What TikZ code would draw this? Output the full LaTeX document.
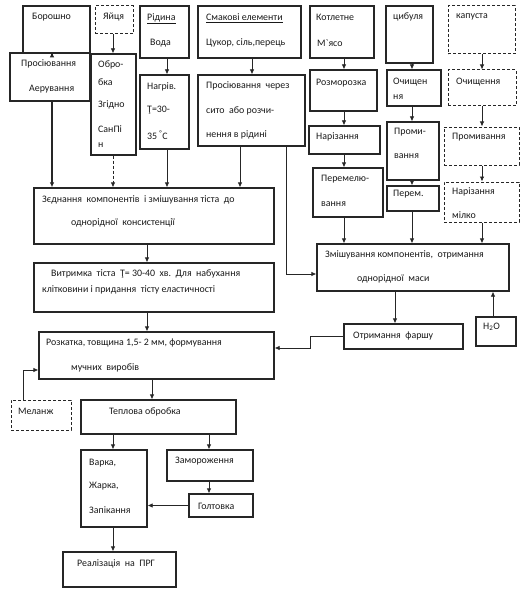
\documentclass[tikz,border=0pt]{standalone}
\usepackage{fontspec}
\setmainfont{Carlito}
\usetikzlibrary{arrows.meta,calc}
\tikzset{
  bx/.style={draw=black!85, line width=1.3pt, rectangle, inner sep=0pt},
  dbx/.style={bx, line width=1pt, dash pattern=on 3pt off 2pt},
  txt/.style={inner sep=0pt, anchor=west, font=\fontsize{9.9}{11}\selectfont, text=black!90},
  conn/.style={draw=black!85, line width=0.8pt, -{Latex[length=5pt,width=4.5pt]}},
  thk/.style={conn, line width=1.8pt},
  dconn/.style={conn, dash pattern=on 3pt off 2pt},
}
\begin{document}
\begin{tikzpicture}[x=1pt,y=-1pt]
\useasboundingbox[fill=white] (0,0) rectangle (523,591);
% boxes
\node[bx, minimum width=67pt, minimum height=47pt] (bor) at (56.5,29.5) {};
\node[dbx, minimum width=38pt, minimum height=28pt] (yai) at (114,20) {};
\node[bx, minimum width=49pt, minimum height=52pt] (rid) at (164.5,32) {};
\node[bx, minimum width=103pt, minimum height=52pt] (sma) at (249.5,32) {};
\node[bx, minimum width=64pt, minimum height=52pt] (kot) at (342,32) {};
\node[bx, minimum width=47pt, minimum height=57pt] (cyb) at (409.5,34.5) {};
\node[dbx, minimum width=67pt, minimum height=48pt] (kap) at (481.5,30) {};
\node[bx, minimum width=80pt, minimum height=48pt] (pros) at (50,77) {};
\node[bx, minimum width=45pt, minimum height=101pt] (obr) at (113.5,104.5) {};
\node[bx, minimum width=49pt, minimum height=74pt] (nag) at (164.5,112) {};
\node[bx, minimum width=107pt, minimum height=71pt] (sito) at (251.5,110.5) {};
\node[bx, minimum width=67pt, minimum height=41pt] (roz) at (343.5,90.5) {};
\node[bx, minimum width=71pt, minimum height=28pt] (nar) at (344.5,140) {};
\node[bx, minimum width=70pt, minimum height=49pt] (per) at (348,192.5) {};
\node[bx, minimum width=54pt, minimum height=36pt] (och) at (414,88) {};
\node[bx, minimum width=52pt, minimum height=58pt] (prom) at (413,151) {};
\node[bx, minimum width=52pt, minimum height=25pt] (perm) at (413,198.5) {};
\node[dbx, minimum width=68pt, minimum height=36pt] (ochk) at (482,88) {};
\node[dbx, minimum width=75pt, minimum height=38pt] (promk) at (481.5,146) {};
\node[dbx, minimum width=75pt, minimum height=40pt] (nark) at (481.5,202) {};
\node[bx, minimum width=240pt, minimum height=56pt] (zed) at (154,216) {};
\node[bx, minimum width=240pt, minimum height=49pt] (vyt) at (154,287.5) {};
\node[bx, minimum width=192pt, minimum height=47pt] (zmi) at (413,267.5) {};
\node[bx, minimum width=119pt, minimum height=25pt] (far) at (403.5,336.5) {};
\node[bx, minimum width=40pt, minimum height=29pt] (h2o) at (496,331.5) {};
\node[bx, minimum width=235pt, minimum height=47pt] (rozk) at (156.5,355.5) {};
\node[dbx, minimum width=60pt, minimum height=30pt] (mel) at (41,415) {};
\node[bx, minimum width=155pt, minimum height=34pt] (tep) at (158.5,417) {};
\node[bx, minimum width=66pt, minimum height=77pt] (var) at (114,488.5) {};
\node[bx, minimum width=86pt, minimum height=31pt] (zam) at (210,465.5) {};
\node[bx, minimum width=64pt, minimum height=23pt] (gol) at (221,505.5) {};
\node[bx, minimum width=113pt, minimum height=35pt] (real) at (119.5,569.5) {};
% texts
\node[txt] (t1) at (32,17) {Борошно};
\node[txt] (t2) at (103,17) {Яйця};
\node[txt] (t3) at (147,19) {\underline{Рідина}};
\node[txt] (t4) at (150,43) {Вода};
\node[txt] (t5) at (206,18) {\underline{Смакові елементи}};
\node[txt] (t6) at (206,43) {Цукор, сіль,перець};
\node[txt] (t7) at (316,17) {Котлетне};
\node[txt] (t8) at (317,43) {М\textasciigrave ясо};
\node[txt] (t9) at (393,17) {цибуля};
\node[txt] (t10) at (456,17) {капуста};
\node[txt] (t11) at (21,64) {Просіювання};
\node[txt] (t12) at (29,89) {Аерування};
\node[txt] (t13) at (98,65) {Обро-};
\node[txt] (t14) at (98,82) {бка};
\node[txt] (t15) at (98,105) {Згідно};
\node[txt] (t16) at (98,129) {СанПі};
\node[txt] (t17) at (98,145) {н};
\node[txt] (t18) at (147,87) {Нагрів.};
\node[txt] (t19) at (147,110) {Ţ=30-};
\node[txt] (t20) at (147,135) {35 \textsuperscript{°}С};
\node[txt] (t21) at (206,86) {Просіювання\ \ через};
\node[txt] (t22) at (206,111) {сито\ \ або розчи-};
\node[txt] (t23) at (206,135) {нення в рідині};
\node[txt] (t24) at (316,83) {Розморозка};
\node[txt] (t25) at (316,137) {Нарізання};
\node[txt] (t26) at (321,179) {Перемелю-};
\node[txt] (t27) at (321,204) {вання};
\node[txt] (t28) at (393,82) {Очищен};
\node[txt] (t29) at (393,97) {ня};
\node[txt] (t30) at (394,132) {Проми-};
\node[txt] (t31) at (394,156) {вання};
\node[txt] (t32) at (393,194) {Перем.};
\node[txt] (t33) at (456,82) {Очищення};
\node[txt] (t34) at (452,137) {Промивання};
\node[txt] (t35) at (452,192) {Нарізання};
\node[txt] (t36) at (452,215) {мілко};
\node[txt] (t37) at (42,200) {Зєднання\ \ компонентів\ \ і змішування тіста\ \ до};
\node[txt] (t38) at (71,223) {однорідної\ \ консистенції};
\node[txt] (t39) at (51,274) {Витримка\ \ тіста\ \ Ţ= 30-40\ \ хв.\ \ Для\ \ набухання};
\node[txt] (t40) at (42,290) {клітковини і придання\ \ тісту еластичності};
\node[txt] (t41) at (325,255) {Змішування компонентів,\ \ отримання};
\node[txt] (t42) at (357,279) {однорідної\ \ маси};
\node[txt] (t43) at (353,336) {Отримання\ \ фаршу};
\node[txt] (t44) at (483,327) {H\textsubscript{2}O};
\node[txt] (t45) at (46,343) {Розкатка, товщина 1,5- 2 мм, формування};
\node[txt] (t46) at (71,368) {мучних\ \ виробів};
\node[txt] (t47) at (18,411) {Меланж};
\node[txt] (t48) at (109,412) {Теплова обробка};
\node[txt] (t49) at (89,463) {Варка,};
\node[txt] (t50) at (89,486) {Жарка,};
\node[txt] (t51) at (89,510) {Запікання};
\node[txt] (t52) at (175,461) {Замороження};
\node[txt] (t53) at (198,506) {Голтовка};
\node[txt] (t54) at (77,564) {Реалізація\ \ на\ \ ПРГ};
% column / row coordinates
\coordinate (c1) at (52,0);
\coordinate (c2) at (113,0);
\coordinate (c3) at (167,0);
\coordinate (c4) at (252,0);
\coordinate (c5) at (240,0);
\coordinate (c6) at (286,0);
\coordinate (c7) at (344,0);
\coordinate (c8) at (412,0);
\coordinate (c9) at (482,0);
\coordinate (c10) at (147,0);
\coordinate (c11) at (395,0);
\coordinate (c12) at (493,0);
\coordinate (c13) at (152,0);
\coordinate (c14) at (113,0);
\coordinate (c15) at (209,0);
\coordinate (c16) at (23,0);
\coordinate (c17) at (310,0);
\coordinate (r1) at (0,274);
\coordinate (r3) at (0,348);
\coordinate (r4) at (0,370);
% connectors
\draw[thk] (bor.south -| c1) -- (pros.north -| c1);
\draw[thk] (pros.south -| c1) -- (zed.north -| c1);
\draw[conn] (yai.south -| c2) -- (obr.north -| c2);
\draw[dconn] (obr.south -| c2) -- (zed.north -| c2);
\draw[conn] (rid.south -| c3) -- (nag.north -| c3);
\draw[conn] (nag.south -| c3) -- (zed.north -| c3);
\draw[conn] (sma.south -| c4) -- (sito.north -| c4);
\draw[conn] (sito.south -| c5) -- (zed.north -| c5);
\draw[conn] (sito.south -| c6) -- (c6 |- r1) -- (zmi.west |- r1);
\draw[conn] (kot.south -| c7) -- (roz.north -| c7);
\draw[conn] (roz.south -| c7) -- (nar.north -| c7);
\draw[conn] (nar.south -| c7) -- (per.north -| c7);
\draw[conn] (per.south -| c7) -- (zmi.north -| c7);
\draw[conn] (cyb.south -| c8) -- (och.north -| c8);
\draw[conn] (och.south -| c8) -- (prom.north -| c8);
\draw[conn] (prom.south -| c8) -- (perm.north -| c8);
\draw[conn] (perm.south -| c8) -- (zmi.north -| c8);
\draw[conn] (kap.south -| c9) -- (ochk.north -| c9);
\draw[conn] (ochk.south -| c9) -- (promk.north -| c9);
\draw[conn] (promk.south -| c9) -- (nark.north -| c9);
\draw[conn] (nark.south -| c9) -- (zmi.north -| c9);
\draw[conn] (zed.south -| c10) -- (vyt.north -| c10);
\draw[conn] (vyt.south -| c10) -- (rozk.north -| c10);
\draw[conn] (zmi.south -| c11) -- (far.north -| c11);
\draw[conn] (h2o.north -| c12) -- (zmi.south -| c12);
\draw[conn] (far.west) -- (far.west -| c17) -- (c17 |- r3) -- (rozk.east |- r3);
\draw[conn] (mel.north -| c16) -- (c16 |- r4) -- (rozk.west |- r4);
\draw[conn] (rozk.south -| c13) -- (tep.north -| c13);
\draw[conn] (tep.south -| c14) -- (var.north -| c14);
\draw[conn] (tep.south -| c15) -- (zam.north -| c15);
\draw[conn] (zam.south -| c15) -- (gol.north -| c15);
\draw[conn] (gol.west) -- (var.east |- gol.west);
\draw[conn] (var.south -| c14) -- (real.north -| c14);
\end{tikzpicture}
\end{document}
